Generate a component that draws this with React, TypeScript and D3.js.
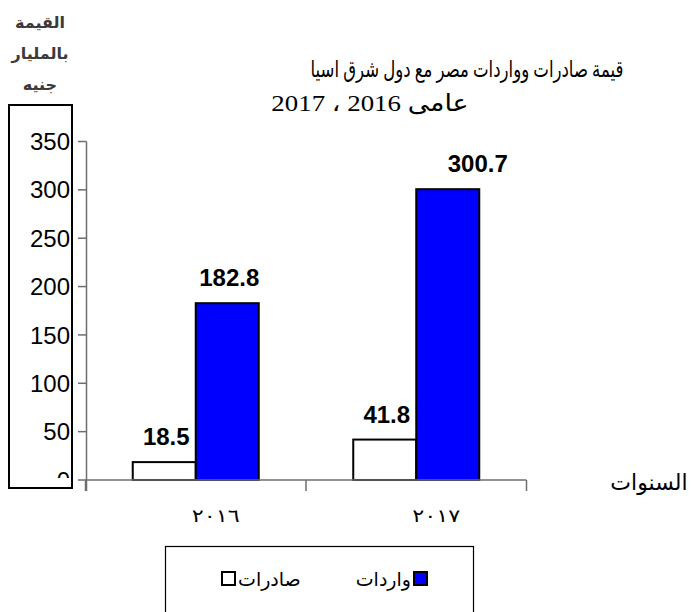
import React from 'react';
import * as d3 from 'd3';

const years = ['2016', '2017'];
const yearLabels = ['٢٠١٦', '٢٠١٧'];
const seriesNames = ['صادرات', 'واردات'];
const exportsValues = [18.5, 41.8];
const importsValues = [182.8, 300.7];
const yTicks = [0, 50, 100, 150, 200, 250, 300, 350];
const titleLines = ['قيمة صادرات وواردات مصر مع دول شرق اسيا', 'عامى 2016 ، 2017'];
const yTitleLines = ['القيمة', 'بالمليار', 'جنيه'];
const xTitle = 'السنوات';

const W = 691;
const H = 612;
const AR = "'Liberation Sans', Arial, 'DejaVu Sans', sans-serif";
const SERIF = "'Liberation Serif', 'Times New Roman', 'DejaVu Sans', serif";

export default function App() {
  const x = d3.scaleBand<string>().domain(years).range([85.5, 526.5]).padding(0);
  const inner = d3.scaleBand<string>().domain(seriesNames).range([0, x.bandwidth()]).paddingInner(0).paddingOuter(0.75);
  const y = d3.scaleLinear().domain([0, 350]).range([480, 141.5]);
  const colors: Record<string, string> = { 'صادرات': '#ffffff', 'واردات': '#0000ff' };
  const valuesBySeries: Record<string, number[]> = { 'صادرات': exportsValues, 'واردات': importsValues };
  const labelNudge: Record<string, number> = { '2017|واردات': 30 };

  const bars: { key: string; x: number; y: number; w: number; h: number; fill: string; v: number }[] = [];
  years.forEach((yr, i) => {
    seriesNames.forEach((s) => {
      const v = valuesBySeries[s][i];
      bars.push({ key: yr + '|' + s, x: (x(yr) as number) + (inner(s) as number), y: y(v), w: inner.bandwidth(), h: y(0) - y(v), fill: colors[s], v });
    });
  });

  const axisColor = '#6e6e6e';
  const x0 = x.range()[0];
  const x1 = x.range()[1];
  const yBase = y(0);

  return (
    <svg width={W} height={H} style={{ position: 'absolute', left: 0, top: 0, background: '#fff' }}>
      <defs>
        <clipPath id="boxclip">
          <rect x={8} y={105} width={64} height={373} />
        </clipPath>
      </defs>
      <rect x={0} y={0} width={W} height={H} fill="#fff" />

      {/* title */}
      <text transform="translate(467,77) scale(0.72,1)" textAnchor="middle" direction="rtl" fontFamily={SERIF} fontSize={23} fill="#000">{titleLines[0]}</text>
      <text transform="translate(370,111) scale(1.12,1)" textAnchor="middle" direction="rtl" fontFamily={SERIF} fontSize={24} fill="#000">{titleLines[1]}</text>

      {/* y title */}
      {yTitleLines.map((t, i) => (
        <text key={i} x={40} y={28 + i * 31} textAnchor="middle" direction="rtl" fontFamily={AR} fontSize={16} fontWeight="bold" fill="#3a3a3a">{t}</text>
      ))}

      {/* box around tick labels */}
      <rect x={9} y={105} width={63} height={383} fill="none" stroke="#000" strokeWidth={2} />
      <g clipPath="url(#boxclip)">
        {yTicks.map((t) => (
          <text key={t} x={70} y={y(t)} dy="0.36em" textAnchor="end" fontFamily={AR} fontSize={24} fill="#000">{t}</text>
        ))}
      </g>

      {/* y axis */}
      <line x1={86.5} x2={86.5} y1={y(350)} y2={491} stroke={axisColor} strokeWidth={1.5} />
      {yTicks.map((t) => (
        <line key={t} x1={78} x2={86.5} y1={y(t)} y2={y(t)} stroke={axisColor} strokeWidth={1.5} />
      ))}

      {/* bars */}
      {bars.map((b) => (
        <rect key={b.key} x={b.x} y={b.y} width={b.w} height={b.h} fill={b.fill} stroke="#000" strokeWidth={2} />
      ))}

      {/* x axis */}
      <line x1={x0} x2={x1} y1={yBase} y2={yBase} stroke={axisColor} strokeWidth={1.5} />
      {[...years.map((yr) => x(yr) as number), x1].map((px, i) => (
        <line key={i} x1={px} x2={px} y1={yBase} y2={491} stroke={axisColor} strokeWidth={1.5} />
      ))}

      {/* value labels */}
      {bars.map((b) => (
        <text key={'l' + b.key} x={b.x + b.w / 2 + (labelNudge[b.key] || 2)} y={b.y - 17} textAnchor="middle" fontFamily={AR} fontSize={24} fontWeight="bold" fill="#000">{b.v.toFixed(1)}</text>
      ))}

      {/* x tick labels */}
      {years.map((yr, i) => (
        <text key={yr} x={(x(yr) as number) + x.bandwidth() / 2 + 20} y={522} textAnchor="middle" fontFamily={SERIF} fontSize={18} textLength={48} lengthAdjust="spacingAndGlyphs" fill="#000">{yearLabels[i]}</text>
      ))}

      {/* x title */}
      <text x={649} y={490} textAnchor="middle" direction="rtl" fontFamily={AR} fontSize={22} fill="#000">{xTitle}</text>

      {/* legend */}
      <rect x={165.5} y={546.5} width={308} height={80} fill="#fff" stroke="#000" strokeWidth={1.2} />
      <rect x={414} y={572} width={13} height={13} fill={colors['واردات']} stroke="#000" strokeWidth={2} />
      <text x={411} y={586} textAnchor="end" fontFamily={AR} fontSize={19} fill="#000">{seriesNames[1]}</text>
      <rect x={222} y={572} width={13} height={13} fill={colors['صادرات']} stroke="#000" strokeWidth={2} />
      <text x={238} y={586} textAnchor="start" fontFamily={AR} fontSize={19} fill="#000">{seriesNames[0]}</text>
    </svg>
  );
}
